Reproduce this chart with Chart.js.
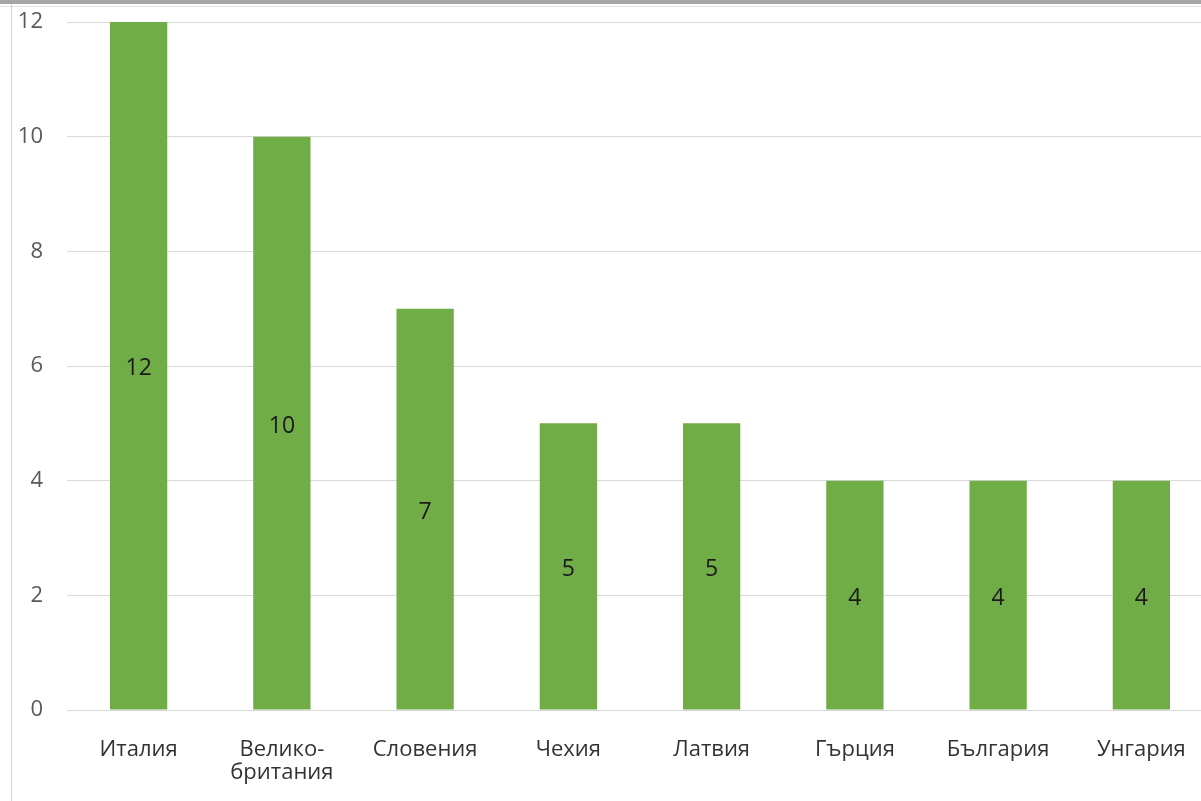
<!DOCTYPE html>
<html>
<head>
<meta charset="utf-8">
<script src="https://cdn.jsdelivr.net/npm/chart.js@4"></script>
<style>
  html, body { margin: 0; padding: 0; background: #fff; overflow: hidden; }
  #wrap { position: relative; width: 1201px; height: 801px; overflow: hidden; }
  #topBar { position: absolute; left: 0; top: 0; width: 1201px; height: 4px; background: #a6a6a6; }
  #topLine { position: absolute; left: 0; top: 6px; width: 1201px; height: 1px; background: #e2e2e2; }
  #leftLine { position: absolute; left: 11px; top: 4px; width: 1px; height: 797px; background: #d4d4d4; }
  #box { position: absolute; left: 0; top: 0; width: 1214px; height: 801px; }
</style>
</head>
<body>
<div id="wrap">
  <div id="topBar"></div>
  <div id="topLine"></div>
  <div id="leftLine"></div>
  <div id="box"><canvas id="chart"></canvas></div>
</div>
<script>
const countries = ["Италия", ["Велико-", "британия"], "Словения", "Чехия", "Латвия", "Гърция", "България", "Унгария"];
const counts = [12, 10, 7, 5, 5, 4, 4, 4];
const yTicks = [0, 2, 4, 6, 8, 10, 12];

const FONT = "'Open Sans', 'Noto Sans', sans-serif";

// labels drawn in the middle of each bar
const barLabels = {
  id: "barLabels",
  afterDatasetsDraw(chart) {
    const ctx = chart.ctx;
    const meta = chart.getDatasetMeta(0);
    ctx.save();
    ctx.font = "23px " + FONT;
    ctx.fillStyle = "#1a1a1a";
    ctx.textAlign = "center";
    ctx.textBaseline = "middle";
    meta.data.forEach((bar, i) => {
      const mid = (bar.y + bar.base) / 2;
      ctx.fillText(String(counts[i]), bar.x, mid + 3);
    });
    ctx.restore();
  }
};

new Chart(document.getElementById("chart"), {
  type: "bar",
  data: {
    labels: countries,
    datasets: [{
      data: counts,
      backgroundColor: "#70ad47",
      borderWidth: 0,
      barPercentage: 0.4,
      categoryPercentage: 1.0
    }]
  },
  options: {
    responsive: true,
    maintainAspectRatio: false,
    animation: false,
    layout: { padding: { top: 22, right: 1, left: 0, bottom: 0 } },
    plugins: { legend: { display: false }, tooltip: { enabled: false } },
    scales: {
      x: {
        grid: { display: false, drawTicks: false },
        border: { display: false },
        ticks: { color: "#333333", font: { family: FONT, size: 22, lineHeight: 1.05 }, padding: 28, maxRotation: 0, autoSkip: false },
        afterFit(scale) { scale.height = 91; scale.paddingLeft = 0; scale.paddingRight = 0; }
      },
      y: {
        min: 0,
        max: 12,
        afterBuildTicks(scale) { scale.ticks = yTicks.map(v => ({ value: v })); },
        grid: { color: "#d9d9d9", drawTicks: false },
        border: { display: false },
        ticks: { color: "#595959", font: { family: FONT, size: 22 }, padding: 24 },
        afterFit(scale) { scale.width = 67; scale.paddingTop = 0; scale.paddingBottom = 0; }
      }
    }
  },
  plugins: [barLabels]
});
</script>
</body>
</html>
